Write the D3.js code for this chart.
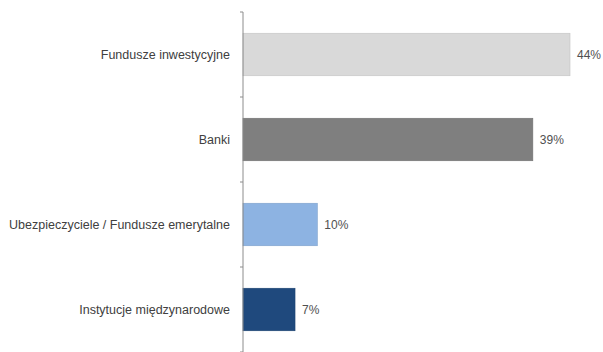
<!DOCTYPE html>
<html><head><meta charset="utf-8">
<script src="https://cdn.jsdelivr.net/npm/d3@7"></script>
<style>body{margin:0;background:#fff}svg{display:block}</style>
</head><body><div id="c"></div>
<script>
const categories = ["Fundusze inwestycyjne","Banki","Ubezpieczyciele / Fundusze emerytalne","Instytucje międzynarodowe"];
const values = [44,39,10,7];
const valueLabels = ["44%","39%","10%","7%"];
const colors = ["#d9d9d9","#7f7f7f","#8db3e2","#1f497d"];

const W=603,H=352;
const m={top:12,left:243,right:20,bottom:0};
const svg=d3.select("#c").append("svg").attr("width",W).attr("height",H);
const y=d3.scaleBand().domain(categories).range([m.top,H-m.bottom]).paddingInner(0.5).paddingOuter(0.25);
const x=d3.scaleLinear().domain([0,44]).range([m.left,570]);

const g=svg.append("g");
g.selectAll("rect").data(categories).join("rect")
 .attr("x",x(0)).attr("y",d=>y(d)).attr("width",(d,i)=>x(values[i])-x(0)).attr("height",y.bandwidth())
 .attr("fill",(d,i)=>colors[i]).attr("stroke",(d,i)=>d3.color(colors[i]).darker(0.3)).attr("stroke-width",0.6);

const font="'Liberation Sans',Arial,sans-serif";
g.selectAll("text.v").data(categories).join("text").attr("class","v")
 .attr("x",(d,i)=>x(values[i])+7).attr("y",d=>y(d)+y.bandwidth()/2).attr("dy","0.35em")
 .attr("font-family",font).attr("font-size",12).attr("fill","#505050").text((d,i)=>valueLabels[i]);

// axis
const ticks=d3.range(categories.length+1).map(i=>m.top+i*(H-m.bottom-m.top)/categories.length);
const ax=svg.append("g").attr("transform",`translate(${m.left},0)`).call(d3.axisLeft(y).tickSize(0).tickPadding(13));
ax.select(".domain").attr("stroke","#8c8c8c").attr("d",`M0,${m.top}V${H}`);
ax.selectAll("text").attr("font-family",font).attr("font-size",12.5).attr("fill","#404040");
svg.append("g").selectAll("line").data(ticks).join("line")
 .attr("x1",m.left-3).attr("x2",m.left).attr("y1",d=>d).attr("y2",d=>d).attr("stroke","#8c8c8c");
</script></body></html>
